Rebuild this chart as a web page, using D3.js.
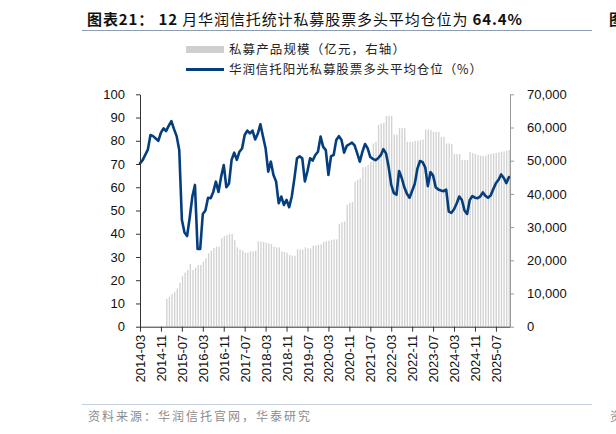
<!DOCTYPE html>
<html>
<head>
<meta charset="utf-8">
<script src="https://cdn.jsdelivr.net/npm/d3@7"></script>
<style>
  html, body { margin: 0; padding: 0; background: #fff; }
  svg { display: block; }
  .cjk { font-family: "Noto Sans CJK SC", sans-serif; }
  .axis text { font-family: "Liberation Sans", Arial, sans-serif; font-size: 13px; fill: #111; }
</style>
</head>
<body>
<svg id="chart"></svg>
<script>
// 2014-03 .. 2025-12, one per month
const months = d3.timeMonth.range(new Date(2014, 2, 1), new Date(2026, 0, 1)).map(d3.timeFormat("%Y-%m"));

const tickLabels = ["2014-03", "2014-11", "2015-07", "2016-03", "2016-11", "2017-07", "2018-03", "2018-11",
  "2019-07", "2020-03", "2020-11", "2021-07", "2022-03", "2022-11", "2023-07", "2024-03", "2024-11", "2025-07"];

// 华润信托阳光私募股票多头平均仓位 (%), 2014-03 .. 2025-12
const position = [
  70.3, 71.7, 73.9, 76.2, 82.5, 82.0, 81.0, 80.0, 83.5, 85.3,
  84.2, 86.5, 88.5, 85.0, 82.0, 76.0, 46.0, 40.5, 39.0, 47.0,
  56.0, 61.0, 33.5, 33.5, 48.5, 50.0, 55.5, 55.3, 58.0, 62.4,
  58.0, 64.5, 69.6, 60.0, 61.6, 71.8, 74.9, 71.8, 75.3, 76.7,
  82.5, 84.4, 83.2, 84.4, 80.6, 83.0, 87.1, 81.8, 76.7, 66.7,
  71.0, 65.3, 62.5, 53.1, 56.0, 52.4, 54.6, 51.4, 56.0, 63.8,
  72.5, 73.3, 72.5, 62.5, 67.0, 72.5, 71.5, 73.9, 75.3, 81.8,
  77.4, 76.0, 65.3, 73.4, 73.9, 80.3, 82.0, 80.3, 74.9, 77.8,
  78.5, 79.2, 78.0, 74.6, 71.0, 75.3, 78.6, 76.7, 73.0, 72.2,
  71.7, 72.5, 73.8, 76.4, 74.6, 68.8, 61.0, 57.5, 56.8, 67.0,
  64.0, 60.0, 57.2, 55.5, 58.5, 61.5, 68.0, 71.3, 70.8, 68.5,
  60.5, 66.5, 65.0, 60.0, 59.0, 58.6, 58.3, 59.0, 49.5, 49.0,
  50.5, 53.0, 56.0, 54.5, 50.0, 48.5, 54.5, 56.2, 55.5, 55.3,
  56.0, 57.8, 56.3, 55.5, 56.5, 59.2, 61.7, 63.2, 65.5, 64.0,
  61.8, 64.4
];

// 私募产品规模 (亿元), 2015-01 .. 2025-12
const scaleStart = "2015-01";
const fundScale = [
  8400, 9000, 9800, 10500, 11500, 13200, 15300, 16300, 17100, 18900,
  17100, 17800, 18600, 18600, 19600, 20600, 22100, 22900, 23700, 24100,
  24100, 26600, 27300, 27600, 27900, 27900, 26100, 23900, 23300, 22900,
  22300, 22300, 22700, 22700, 22900, 25700, 25700, 25500, 25300, 25100,
  24900, 24100, 23900, 23900, 22700, 22500, 22300, 21600, 21400, 21400,
  23300, 23300, 23200, 23900, 23600, 23600, 24400, 24400, 24700, 24800,
  25500, 25700, 25900, 26100, 26300, 26300, 30900, 31500, 31700, 36700,
  37300, 37600, 43700, 44200, 44700, 48000, 48200, 48700, 49700, 55200,
  55700, 60800, 61200, 61400, 63500, 63500, 63500, 57900, 57900, 59800,
  59800, 59800, 55700, 55700, 55700, 56000, 56000, 56200, 56400, 59400,
  59400, 59200, 58700, 58700, 58700, 57200, 57200, 55200, 55200, 55000,
  52000, 52000, 52000, 50200, 50200, 50200, 52600, 52300, 52000, 51700,
  51500, 51400, 51500, 52000, 52100, 52200, 52300, 52500, 52700, 52800,
  53000, 53200
];

const leftTicks = [0, 10, 20, 30, 40, 50, 60, 70, 80, 90, 100];
const rightTicks = [0, 10000, 20000, 30000, 40000, 50000, 60000, 70000];

const W = 616, H = 434;
const plot = { left: 140, right: 510, top: 94.3, bottom: 326.7 };

const svg = d3.select("#chart").attr("width", W).attr("height", H);

// title
const title = svg.append("text")
  .attr("class", "cjk")
  .attr("x", 87).attr("y", 25)
  .attr("textLength", 435).attr("lengthAdjust", "spacing")
  .style("font-size", "15px").style("fill", "#111");
title.append("tspan").style("font-weight", "bold").text("图表21：");
title.append("tspan").style("font-weight", "bold").text(" 12 ");
title.append("tspan").text("月华润信托统计私募股票多头平均仓位为 ");
title.append("tspan").style("font-weight", "bold").text("64.4%");

svg.append("text").attr("class", "cjk").attr("x", 609).attr("y", 25)
  .style("font-size", "15px").style("font-weight", "bold").style("fill", "#111").text("图");

svg.append("line").attr("x1", 82).attr("x2", 592).attr("y1", 30.5).attr("y2", 30.5)
  .attr("stroke", "#8d9db3").attr("stroke-width", 1);

// legend
svg.append("rect").attr("x", 186).attr("y", 46).attr("width", 38).attr("height", 7).attr("fill", "#cfcfcf");
svg.append("text").attr("class", "cjk").attr("x", 229).attr("y", 53.5)
  .attr("textLength", 176).attr("lengthAdjust", "spacing")
  .style("font-size", "12.5px").style("fill", "#222").text("私募产品规模（亿元，右轴）");
svg.append("line").attr("x1", 186).attr("x2", 224).attr("y1", 69.5).attr("y2", 69.5)
  .attr("stroke", "#053e7e").attr("stroke-width", 3);
svg.append("text").attr("class", "cjk").attr("x", 229).attr("y", 74)
  .attr("textLength", 253).attr("lengthAdjust", "spacing")
  .style("font-size", "12.5px").style("fill", "#222").text("华润信托阳光私募股票多头平均仓位（%）");

// scales
const xBand = d3.scaleBand().domain(months).range([plot.left, plot.right]).paddingInner(0.48);
const xPoint = d3.scalePoint().domain(months).range([plot.left, plot.right - 1]);
const yL = d3.scaleLinear().domain([0, 100]).range([plot.bottom, plot.top]);
const yR = d3.scaleLinear().domain([0, 70000]).range([plot.bottom, plot.top]);

// bars
const startIdx = months.indexOf(scaleStart);
const barData = fundScale.map((v, i) => ({ m: months[startIdx + i], v }));
svg.append("g").selectAll("rect").data(barData).join("rect")
  .attr("x", d => xBand(d.m))
  .attr("width", xBand.bandwidth())
  .attr("y", d => yR(d.v))
  .attr("height", d => yR(0) - yR(d.v))
  .attr("fill", "#d2d2d2");

// line
const line = d3.line().x((d, i) => xPoint(months[i])).y(d => yL(d)).curve(d3.curveLinear);
svg.append("path").datum(position)
  .attr("fill", "none").attr("stroke", "#053e7e").attr("stroke-width", 2.6)
  .attr("stroke-linejoin", "round").attr("stroke-linecap", "round")
  .attr("d", line);

// axes
const gL = svg.append("g").attr("class", "axis").attr("transform", `translate(${plot.left},0)`)
  .call(d3.axisLeft(yL).tickValues(leftTicks).tickSize(4).tickPadding(11).tickSizeOuter(0));
gL.select(".domain").attr("stroke", "#333");
gL.selectAll(".tick line").attr("stroke", "#333");

const gR = svg.append("g").attr("class", "axis").attr("transform", `translate(${plot.right},0)`)
  .call(d3.axisRight(yR).tickValues(rightTicks).tickFormat(d3.format(",")).tickSize(4).tickPadding(13).tickSizeOuter(0));
gR.select(".domain").attr("stroke", "#999");
gR.selectAll(".tick line").attr("stroke", "#999");

const gX = svg.append("g").attr("class", "axis").attr("transform", `translate(0,${plot.bottom})`)
  .call(d3.axisBottom(xPoint).tickValues(tickLabels).tickSize(5).tickSizeOuter(0));
gX.select(".domain").attr("stroke", "#333").attr("d", `M${plot.left},0.5H${plot.right}`);
gX.selectAll(".tick line").attr("stroke", "#333");
gX.selectAll(".tick text")
  .attr("transform", "rotate(-90)")
  .attr("x", -8).attr("y", 0).attr("dy", "0.35em")
  .style("text-anchor", "end");

// footer
svg.append("line").attr("x1", 82).attr("x2", 592).attr("y1", 404.5).attr("y2", 404.5)
  .attr("stroke", "#c4d0de").attr("stroke-width", 1);
svg.append("text").attr("class", "cjk").attr("x", 88).attr("y", 421)
  .attr("textLength", 222).attr("lengthAdjust", "spacing")
  .style("font-size", "12px").style("fill", "#8c8c8c").text("资料来源：华润信托官网，华泰研究");
svg.append("text").attr("class", "cjk").attr("x", 610).attr("y", 421)
  .style("font-size", "12px").style("fill", "#8c8c8c").text("资");
</script>
</body>
</html>
